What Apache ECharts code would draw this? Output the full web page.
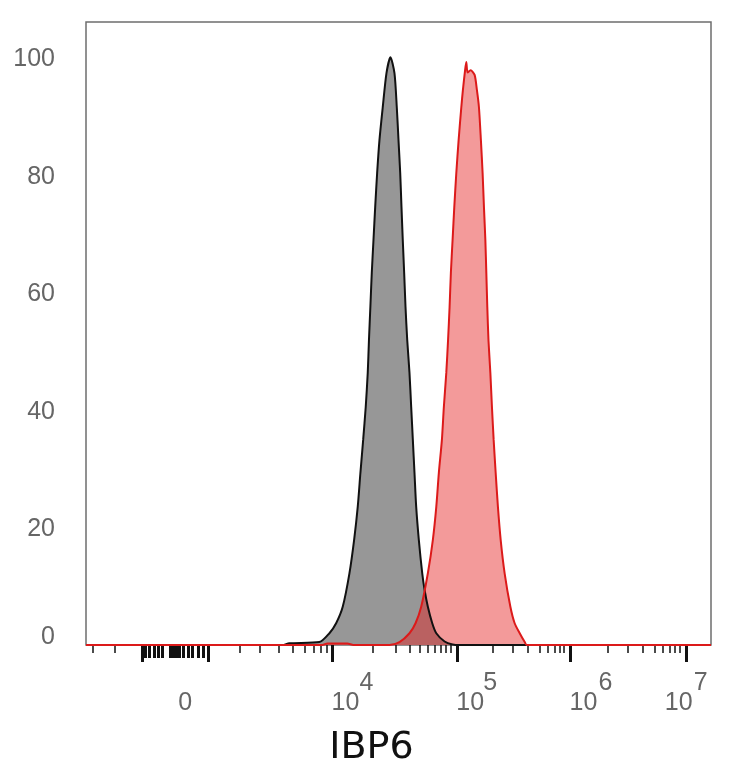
<!DOCTYPE html>
<html>
<head>
<meta charset="utf-8">
<title>IBP6</title>
<style>
    html, body { margin: 0; padding: 0; background: #fff; }
    #main { width: 734px; height: 768px; }
</style>
<script src="https://cdn.jsdelivr.net/npm/echarts@6/dist/echarts.min.js"></script>
</head>
<body>
<div id="main"></div>
<script>
// display channels (0-1024, biexponential display scale) and % of max
var isotypeChannels = [0, 321.6, 333.1, 382.4, 398.8, 409.8, 420.6, 431.6, 439.3, 445.2, 449.6, 454.1, 458.3, 461.6,
    463.6, 465.9, 468.2, 471.0, 473.8, 477.0, 480.8, 486.2, 492.3, 498.8, 505.4, 509.2, 512.0, 514.8, 516.9, 519.0,
    521.3, 523.5, 526.3, 530.0, 532.8, 535.5, 538.2, 541.0, 545.3, 550.9, 554.7, 560.1, 567.3, 573.9, 587.5, 600.6,
    612.1, 1024];
var isotypeCounts = [0, 0, 0.3, 0.5, 2.0, 3.7, 6.5, 12.2, 17.9, 23.5, 29.3, 34.9, 40.5, 46.3,
    51.9, 57.5, 63.3, 68.9, 74.5, 80.3, 85.9, 91.5, 97.3, 100, 97.3, 91.5, 85.9, 80.3, 74.5, 68.9,
    63.3, 57.5, 51.9, 46.3, 40.5, 34.9, 29.3, 23.5, 17.9, 12.2, 9.4, 6.5, 3.7, 2.0, 0.6, 0.1,
    0, 0];
var ibp6Channels = [0, 387.3, 395.5, 428.3, 438.1, 497.2, 513.6, 530.0, 539.9, 549.2, 560.1, 568.3, 573.9, 578.1,
    583.1, 586.3, 590.3, 593.2, 595.7, 597.8, 600.6, 603.4, 606.7, 610.5, 614.9, 617.5, 621.1, 623.1, 625.2,
    630.1, 636.7, 640.5, 643.8, 647.0, 649.8, 652.0, 654.3, 655.9, 657.5, 659.4, 662.5, 665.1, 667.9, 671.2,
    674.9, 679.4, 685.9, 695.3, 702.3, 710.6, 718.8, 722.0, 1024];
var ibp6Counts = [0, 0, 0.25, 0.25, 0, 0, 0.5, 2.0, 3.7, 6.5, 12.2, 17.9, 23.5, 29.3,
    34.9, 40.5, 46.3, 51.9, 57.5, 63.3, 68.9, 74.5, 80.3, 85.9, 91.5, 94.4, 97.8, 99.2, 97.4,
    97.8, 97.0, 94.4, 91.5, 85.9, 80.3, 74.5, 68.9, 63.3, 57.5, 51.9, 46.3, 40.5, 34.9, 29.3,
    23.5, 17.9, 12.2, 6.5, 3.7, 2.0, 0.5, 0, 0];

// x axis ticks and labels (channels)
var labelChannels = [162.5, 403.7, 608.3, 793.8, 984.1];
var labelBases = ['0', '10', '10', '10', '10'];
var labelExponents = ['', '4', '5', '6', '7'];
var majorTicks = [91.9, 200.2, 403.7, 608.3, 793.8, 984.1];
var linearTicks = [96.8, 103.4, 111.6, 118.2, 124.7, 137.8, 142.8, 147.7, 152.6, 159.2, 167.4, 173.9, 183.8, 192.0];
var minorTicks = [10.3, 47.1, 251.1, 285.0, 315.1, 338.5, 358.9, 372.5, 384.5, 394.3,
    469.8, 507.1, 530.0, 546.5, 560.1, 571.1, 580.9, 589.1, 596.8,
    666.7, 699.6, 724.2, 743.4, 757.0, 768.0, 776.2, 783.3,
    855.4, 888.3, 912.9, 932.1, 945.7, 956.7, 964.9, 972.0];
var yTicks = [0, 20, 40, 60, 80, 100];

var labelFont = 'Liberation Sans, Arial, sans-serif';

var toPairs = function (xs, ys) {
    var out = [];
    for (var i = 0; i < xs.length; i++) {
        out.push([xs[i], ys[i]]);
    }
    return out;
};

/**
 * a bare x axis laid over the grid bottom, nothing shown by default
 */
var bareAxis = function () {
    return {
        type: 'value',
        position: 'bottom',
        min: 0,
        max: 1024,
        axisLine: { show: false },
        splitLine: { show: false },
        axisLabel: { show: false },
        axisTick: { show: false }
    };
};

var tickAxis = function (values, len, width) {
    var axis = bareAxis();
    axis.axisTick = {
        show: true,
        inside: false,
        length: len,
        customValues: values,
        lineStyle: { color: '#111', width: width }
    };
    return axis;
};

/**
 * one row of label text; pads[i] = [left, right] shifts each label sideways
 */
var labelAxis = function (texts, pads, margin) {
    var axis = bareAxis();
    var rich = {};
    for (var i = 0; i < texts.length; i++) {
        rich['t' + i] = {
            fontFamily: labelFont,
            fontSize: 25,
            color: '#666',
            padding: [0, pads[i][1], 0, pads[i][0]]
        };
    }
    axis.axisLabel = {
        show: true,
        customValues: labelChannels,
        margin: margin,
        align: 'center',
        formatter: function (value) {
            var idx = labelChannels.indexOf(value);
            return texts[idx] ? '{t' + idx + '|' + texts[idx] + '}' : '';
        },
        rich: rich
    };
    return axis;
};

var majorAxis = tickAxis(majorTicks, 17, 3);
majorAxis.name = 'IBP6';
majorAxis.nameLocation = 'middle';
majorAxis.nameGap = 84;
majorAxis.nameMoveOverlap = false;
majorAxis.nameTextStyle = {
    fontFamily: 'DejaVu Sans',
    fontSize: 38,
    color: '#111',
    padding: [0, 54, 0, 0]
};

var chart = echarts.init(document.getElementById('main'));
chart.setOption({
    animation: false,
    grid: {
        left: 86,
        right: 23,
        top: 22,
        bottom: 123,
        show: true,
        borderColor: '#6e6e6e',
        borderWidth: 1.5,
        outerBoundsMode: 'none'
    },
    xAxis: [
        majorAxis,
        tickAxis(linearTicks, 13, 3),
        tickAxis(minorTicks, 8, 1.5),
        labelAxis(labelBases, [[0, 0], [26, 0], [26, 0], [26, 0], [0, 16]], 46),
        labelAxis(labelExponents, [[0, 0], [68, 0], [66, 0], [70, 0], [28, 0]], 26)
    ],
    yAxis: {
        type: 'value',
        min: 0,
        max: 106,
        axisLine: { show: false },
        axisTick: { show: false },
        splitLine: { show: false },
        axisLabel: {
            customValues: yTicks,
            margin: 31,
            color: '#666',
            fontSize: 25,
            fontFamily: labelFont,
            formatter: function (v) {
                return v === 0 ? '{z|0}' : '{n|' + v + '}';
            },
            rich: {
                n: { fontFamily: labelFont, fontSize: 25, color: '#666', padding: [4, 0, 0, 0] },
                z: { fontFamily: labelFont, fontSize: 25, color: '#666', padding: [0, 0, 16, 0] }
            }
        }
    },
    series: [
        {
            name: 'Isotype control',
            type: 'line',
            data: toPairs(isotypeChannels, isotypeCounts),
            smooth: 0.25,
            showSymbol: false,
            lineStyle: { color: '#111', width: 2 },
            areaStyle: { color: '#979797', opacity: 1 }
        },
        {
            name: 'IBP6',
            type: 'line',
            data: toPairs(ibp6Channels, ibp6Counts),
            smooth: 0.25,
            showSymbol: false,
            lineStyle: { color: '#dc1a1a', width: 2 },
            areaStyle: { color: 'rgba(228, 30, 30, 0.45)', opacity: 1 }
        }
    ]
});

window.addEventListener('resize', function () {
    chart.resize();
});
</script>
</body>
</html>
